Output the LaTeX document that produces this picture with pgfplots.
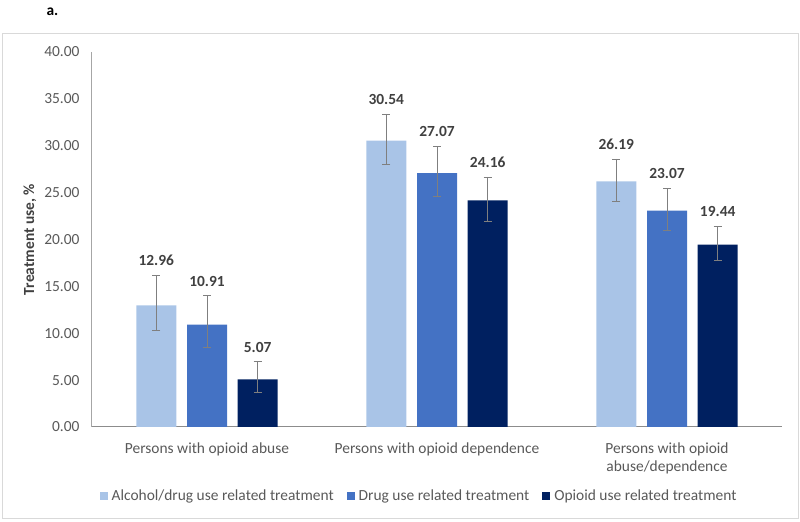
\documentclass[border=0pt]{standalone}
\usepackage{fontspec}
\setmainfont{Carlito}
\usepackage{pgfplots}
\usepackage{pgfplotstable}
\pgfplotsset{compat=1.18}

\definecolor{lightblue}{HTML}{A9C4E7}
\definecolor{midblue}{HTML}{4472C4}
\definecolor{darkblue}{HTML}{002060}
\definecolor{ticktext}{HTML}{595959}
\definecolor{valtext}{HTML}{404040}
\definecolor{errgrey}{HTML}{7F7F7F}
\definecolor{framegrey}{HTML}{D9D9D9}
\definecolor{xaxisgrey}{HTML}{8C8C8C}
\definecolor{yaxisgrey}{HTML}{A6A6A6}

% x = category index, y = value, ep/em = upper/lower error
\pgfplotstableread{
x y ep em
0 12.96 3.24 2.61
1 30.54 2.85 2.49
2 26.19 2.40 2.09
}\alcdrug
\pgfplotstableread{
x y ep em
0 10.91 3.09 2.45
1 27.07 2.87 2.50
2 23.07 2.39 2.09
}\druguse
\pgfplotstableread{
x y ep em
0 5.07 1.90 1.37
1 24.16 2.51 2.19
2 19.44 1.96 1.70
}\opioid

\newcommand{\basefont}{\fontsize{15.5}{18.5}\selectfont}

\begin{document}
\begin{tikzpicture}
\useasboundingbox (0,0) rectangle (800bp,522bp);
\draw[framegrey, line width=1bp] (2bp,3bp) rectangle (798bp,488bp);
\node[anchor=base west, font=\basefont\bfseries, text=black] at (43bp,506bp) {a.};
\begin{axis}[
  at={(92bp,95bp)}, anchor=south west,
  scale only axis,
  width=690bp, height=375bp,
  xmin=-0.5, xmax=2.5, ymin=0, ymax=40,
  ybar=10.7bp, bar width=40bp,
  axis x line*=bottom, axis y line*=left,
  x axis line style={xaxisgrey, line width=1bp, -},
  y axis line style={yaxisgrey, line width=1bp, -},
  major tick length=0pt,
  xtick={0,1,2},
  xticklabels={{Persons with opioid abuse},{Persons with opioid dependence},{Persons with opioid\\abuse/dependence}},
  x tick label style={align=center, font=\basefont, text=ticktext, yshift=-12bp},
  ytick={0,5,...,40},
  y tick label style={font=\basefont, text=ticktext,
    /pgf/number format/fixed, /pgf/number format/fixed zerofill,
    /pgf/number format/precision=2, xshift=-9bp},
  /pgf/number format/assume math mode=true,
  ylabel={Treatment use, \%},
  every axis y label/.style={at={(axis description cs:-0.0899,0.5)}, rotate=90, anchor=center, font=\basefont\bfseries, text=valtext},
  error bars/y dir=both, error bars/y explicit,
  error bars/error bar style={errgrey, line width=0.9bp},
  error bars/error mark options={rotate=90, errgrey, mark size=4bp, line width=0.9bp},
  nodes near coords={\pgfmathprintnumber[fixed,fixed zerofill,precision=2]{\pgfplotspointmeta}},
  visualization depends on={\thisrow{ep} \as \ep},
  nodes near coords style={shift={(axis direction cs:0,\ep)}, anchor=south, yshift=6bp, font=\basefont\bfseries, text=valtext},
  legend style={at={(0.4725,-0.1832)}, anchor=center, legend columns=3, draw=none, fill=none, font=\basefont, text=ticktext,
    nodes={inner xsep=0pt},
    /tikz/every odd column/.append style={column sep=4bp},
    /tikz/every even column/.append style={column sep=13bp}},
  legend image code/.code={\fill[#1] (0bp,-4bp) rectangle (8bp,4bp);},
]
\addplot[fill=lightblue, draw=none] table[x=x, y=y, y error plus=ep, y error minus=em]{\alcdrug};
\addplot[fill=midblue, draw=none] table[x=x, y=y, y error plus=ep, y error minus=em]{\druguse};
\addplot[fill=darkblue, draw=none] table[x=x, y=y, y error plus=ep, y error minus=em]{\opioid};
\legend{Alcohol/drug use related treatment, Drug use related treatment, Opioid use related treatment}
\end{axis}
\end{tikzpicture}
\end{document}
